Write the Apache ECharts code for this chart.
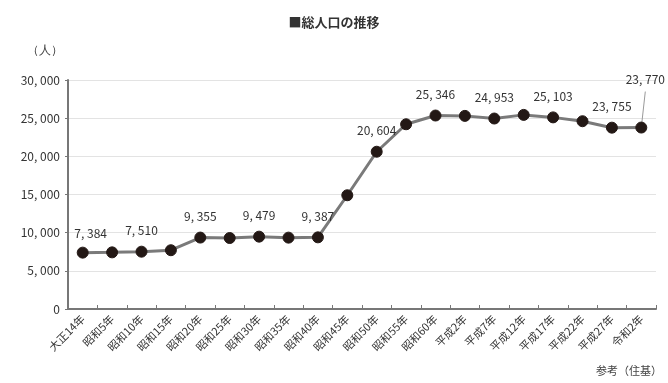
<!DOCTYPE html>
<html><head><meta charset="utf-8">
<script src="https://cdn.jsdelivr.net/npm/echarts@6/dist/echarts.min.js"></script>
<style>html,body{margin:0;padding:0;background:#fff}#c{width:668px;height:383px}</style>
</head><body><div id="c"></div>
<script>
const categories = ['大正14年','昭和5年','昭和10年','昭和15年','昭和20年','昭和25年','昭和30年','昭和35年','昭和40年','昭和45年','昭和50年','昭和55年','昭和60年','平成2年','平成7年','平成12年','平成17年','平成22年','平成27年','令和2年'];
const population = [7384,7420,7510,7700,9355,9300,9479,9350,9387,14900,20604,24200,25346,25300,24953,25430,25103,24600,23755,23770];
const labeledIdx = [0,2,4,6,8,10,12,14,16,18,19];
const yTicks = [0,5000,10000,15000,20000,25000,30000];

const fmt = v => v >= 1000 ? Math.floor(v/1000) + ', ' + String(v%1000).padStart(3,'0') : String(v);
const FONT = '"Noto Sans CJK JP","Noto Sans",sans-serif';

const data = population.map((v,i) => {
  const d = {value: v};
  if (labeledIdx.includes(i)) {
    d.label = {show: true};
    if (i === 0) d.label = {show: true, offset: [8, 2]};
    if (i === population.length - 1) {
      d.label = {show: true, position: 'top', distance: 36, offset: [4, 0]};
      d.labelLine = {show: true, lineStyle: {color: '#999', width: 1}};
    }
  }
  return d;
});

const chart = echarts.init(document.getElementById('c'));
chart.setOption({
  animation: false,
  textStyle: {fontFamily: FONT},
  title: {text: '■総人口の推移', left: 'center', top: 11, textStyle: {fontSize: 13, fontWeight: 'bold', color: '#333', fontFamily: FONT}},
  graphic: [
    {type: 'text', left: 27, top: 45, style: {text: '（人）', fontSize: 12, fill: '#444', font: '12px ' + FONT}},
    {type: 'text', right: 6, top: 365, style: {text: '参考（住基）', fill: '#444', font: '11px ' + FONT}}
  ],
  grid: {left: 68, right: 12, top: 80, bottom: 74},
  xAxis: {
    type: 'category', data: categories, boundaryGap: true,
    axisLine: {lineStyle: {color: '#777', width: 2}},
    axisTick: {show: true, inside: true, length: 4, lineStyle: {color: '#777'}},
    axisLabel: {rotate: 45, fontSize: 11, color: '#333', margin: 8, interval: 0, fontFamily: FONT}
  },
  yAxis: {
    type: 'value', min: yTicks[0], max: yTicks[yTicks.length-1], interval: 5000,
    axisLine: {show: true, lineStyle: {color: '#777', width: 2}},
    axisTick: {show: true, length: 3, lineStyle: {color: '#777'}},
    splitLine: {lineStyle: {color: '#e3e3e3', width: 1}},
    axisLabel: {fontSize: 12, color: '#333', margin: 8, formatter: v => fmt(v), fontFamily: FONT}
  },
  series: [{
    type: 'line', data: data,
    symbol: 'circle', symbolSize: 11,
    lineStyle: {color: '#7a7a7a', width: 3},
    itemStyle: {color: '#231815', borderColor: '#231815'},
    label: {show: false, position: 'top', distance: 9, fontSize: 12, color: '#333', formatter: p => fmt(p.value), fontFamily: FONT}
  }]
});
</script></body></html>
